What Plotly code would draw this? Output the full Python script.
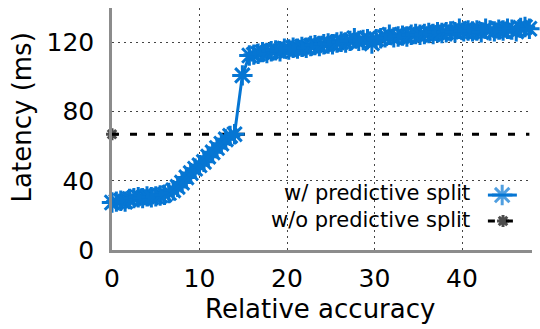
import plotly.graph_objects as go

# Latency vs. relative accuracy, with and without predictive split
accuracy = [0.0, 0.5, 1.0, 1.5, 2.0, 2.5, 3.0, 3.5, 4.0, 4.5, 5.0, 5.5, 6.0, 6.5,
            7.0, 7.5, 8.0, 8.5, 9.0, 9.5, 10.0, 10.5, 11.0, 11.5, 12.0, 12.5, 13.0,
            13.5, 14.0, 14.9,
            15.7, 16.2, 16.7, 17.2, 17.7, 18.2, 18.7, 19.2, 19.7, 20.2, 20.7, 21.2,
            21.7, 22.2, 22.7, 23.2, 23.7, 24.2, 24.7, 25.2, 25.7, 26.2, 26.7, 27.2,
            27.7, 28.2, 28.7, 29.2, 29.7, 30.2, 30.7, 31.2, 31.7, 32.2, 32.7, 33.2,
            33.7, 34.2, 34.7, 35.2, 35.7, 36.2, 36.7, 37.2, 37.7, 38.2, 38.7, 39.2,
            39.7, 40.2, 40.7, 41.2, 41.7, 42.2, 42.7, 43.2, 43.7, 44.2, 44.7, 45.2,
            45.7, 46.2, 46.7, 47.2, 47.7]
latency_split = [27.5, 28, 28.5, 28, 29.5, 30, 30.5, 30, 31, 30.5, 31, 31.5, 32, 33,
                 34.5, 36.5, 39, 42, 44.5, 47, 49, 51, 54, 56.5, 59, 61.5, 64,
                 66, 67, 101,
                 112.5, 113, 113.5, 114.5, 114, 115, 115.5, 115, 116.5, 116, 117, 116.5,
                 117.5, 117, 118, 118.5, 118, 119, 119.5, 119, 120, 120.5, 120, 121,
                 122.5, 121, 121.5, 122, 119.5, 122, 122.5, 123, 124.5, 123, 123.5, 124,
                 123.5, 124.5, 125, 124.5, 125, 125.5, 125, 126, 125.5, 126, 126.5, 126,
                 128, 126.5, 127, 126.5, 127, 126, 128, 127, 126.5, 127.5, 127, 128,
                 127.5, 126.5, 128.5, 129, 128]
baseline_x = [0.0, 47.7]
baseline_latency = [67, 67]

x_ticks = [0, 10, 20, 30, 40]
y_ticks = [0, 40, 80, 120]

BLUE = "#0676d3"
FONT = "DejaVu Sans"

fig = go.Figure()

fig.add_trace(go.Scatter(
    x=baseline_x, y=baseline_latency, mode="lines+markers",
    line=dict(color="black", width=3, dash="7px,11px"),
    marker=dict(symbol="asterisk-open", size=[10, 0], color="black",
                line=dict(color="black", width=3)),
    cliponaxis=False, showlegend=False,
))

fig.add_trace(go.Scatter(
    x=accuracy, y=latency_split, mode="lines+markers",
    line=dict(color=BLUE, width=3),
    marker=dict(symbol="asterisk-open", size=17, color=BLUE,
                line=dict(color=BLUE, width=3)),
    cliponaxis=False, showlegend=False,
))

# Key samples, drawn on an overlay axis spanning the plot area
fig.add_trace(go.Scatter(
    x=[0.895, 0.929, 0.964], y=[0.227, 0.227, 0.227], mode="lines+markers",
    xaxis="x2", yaxis="y2",
    line=dict(color=BLUE, width=3),
    marker=dict(symbol="asterisk-open", size=[0, 17, 0], color=BLUE,
                line=dict(color=BLUE, width=3)),
    cliponaxis=False, showlegend=False, hoverinfo="skip",
))
fig.add_trace(go.Scatter(
    x=[0.895, 0.931, 0.955], y=[0.12, 0.12, 0.12], mode="lines+markers",
    xaxis="x2", yaxis="y2",
    line=dict(color="black", width=3, dash="7px,11px"),
    marker=dict(symbol="asterisk-open", size=[0, 10, 0], color="black",
                line=dict(color="black", width=3)),
    cliponaxis=False, showlegend=False, hoverinfo="skip",
))

axis_style = dict(
    showgrid=True, gridcolor="#444444", gridwidth=1, griddash="2px,4px",
    showline=True, linecolor="#8c8c8c", linewidth=2.5, zeroline=False,
    ticks="", tickfont=dict(family=FONT, size=25, color="black"),
)

fig.update_layout(
    width=540, height=329,
    margin=dict(l=112, r=8, t=8, b=79),
    paper_bgcolor="white", plot_bgcolor="white",
    font=dict(family=FONT, color="black"),
    xaxis=dict(range=[0, 48], tickvals=x_ticks, ticklabelstandoff=4, **axis_style),
    yaxis=dict(range=[0, 140], tickvals=y_ticks, ticklabelstandoff=10, **axis_style),
    xaxis2=dict(overlaying="x", anchor="y2", range=[0, 1], visible=False),
    yaxis2=dict(overlaying="y", anchor="x2", range=[0, 1], visible=False),
    annotations=[
        dict(text="w/ predictive split", xref="paper", yref="paper",
             x=0.857, y=0.2355, xanchor="right", yanchor="middle",
             showarrow=False, font=dict(family=FONT, size=21, color="black")),
        dict(text="w/o predictive split", xref="paper", yref="paper",
             x=0.857, y=0.124, xanchor="right", yanchor="middle",
             showarrow=False, font=dict(family=FONT, size=21, color="black")),
        dict(text="Relative accuracy", xref="paper", yref="paper",
             x=0.495, y=-0.244, xanchor="center", yanchor="middle",
             showarrow=False, font=dict(family=FONT, size=26, color="black")),
        dict(text="Latency (ms)", xref="paper", yref="paper", textangle=-90,
             x=-0.2155, y=0.55, xanchor="center", yanchor="middle",
             showarrow=False, font=dict(family=FONT, size=26, color="black")),
    ],
)

assert len(accuracy) == len(latency_split)
fig.write_html("out.html")
